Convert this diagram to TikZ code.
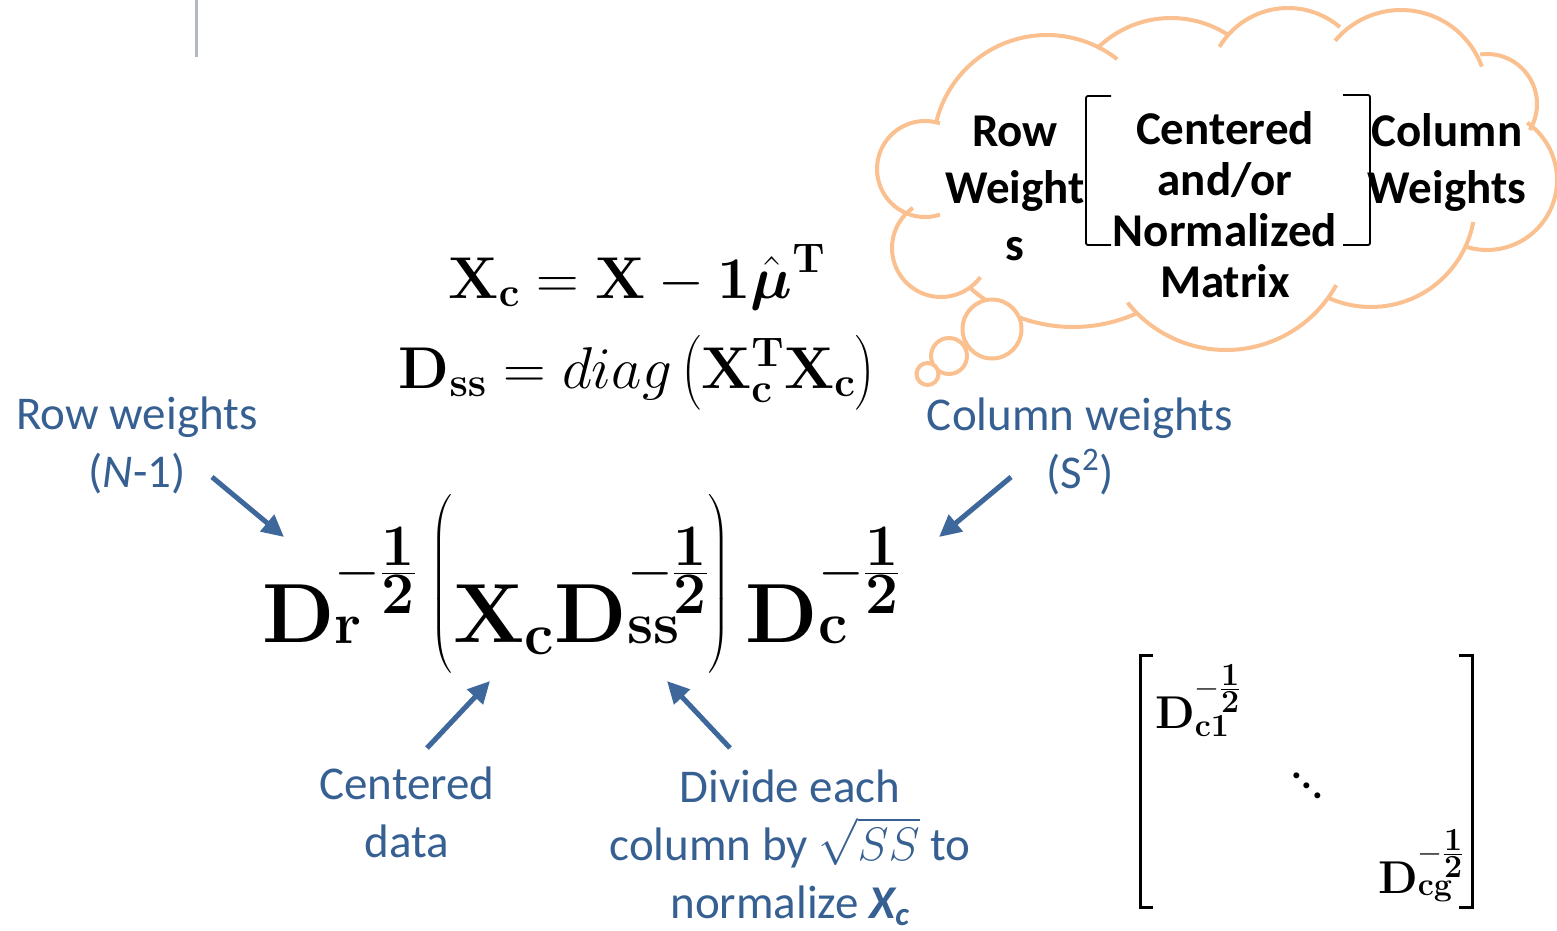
\RequirePackage{fix-cm}
\documentclass[tikz,border=0pt]{standalone}
\usepackage{amsmath}
\usepackage[no-math]{fontspec}
\setmainfont{Carlito}
\usetikzlibrary{arrows.meta}
\definecolor{labelblue}{RGB}{55,96,146}
\definecolor{arrowblue}{RGB}{62,104,156}
\definecolor{cloudpeach}{RGB}{250,192,143}
\definecolor{rulegray}{RGB}{180,185,190}
\newcommand{\mhalf}{-\frac{\scriptstyle\mathbf{1}}{\scriptstyle\mathbf{2}}}
\newcommand{\bigparen}[1]{\raisebox{37pt}{$\left#1\rule{0pt}{110pt}\right.$}}
\begin{document}
\begin{tikzpicture}[x=1pt,y=-1pt,
  bluelabel/.style={text=labelblue, font=\fontsize{47}{58}\selectfont, align=center, anchor=base, inner sep=0pt},
  cloudtext/.style={font=\bfseries\fontsize{47}{57}\selectfont, align=center, anchor=base, inner sep=0pt},
  mathtext/.style={anchor=base, inner sep=0pt},
  puff/.style={draw=cloudpeach, line width=4pt},
  pointer/.style={draw=arrowblue, line width=5pt, -{Triangle[length=22pt,width=21pt]},
    preaction={draw=black!20, transform canvas={shift={(1.5pt,-2pt)}}}}]
\useasboundingbox (0,0) rectangle (1557,930);
\draw[rulegray, line width=3pt] (196,0) -- (196,57);
\draw[puff] (1047,149) ++(193.7:114) arc[start angle=193.7, end angle=308, radius=114];
\draw[puff] (1171,123) ++(225.4:105) arc[start angle=225.4, end angle=302.9, radius=105];
\draw[puff] (1288,88) ++(211:80) arc[start angle=211, end angle=310.4, radius=80];
\draw[puff] (1401,96) ++(220:86) arc[start angle=220, end angle=340, radius=86];
\draw[puff] (1487,104) ++(262.2:50) arc[start angle=262.2, end angle=391.3, radius=50];
\draw[puff] (1487,180) ++(-55:70) arc[start angle=-55, end angle=106.6, radius=70];
\draw[puff] (1371,203) ++(10.5:104) arc[start angle=10.5, end angle=114.4, radius=104];
\draw[puff] (1226,224) ++(29:126) arc[start angle=29, end angle=141.4, radius=126];
\draw[puff] (1073,172) ++(65.6:155) arc[start angle=65.6, end angle=131.9, radius=155];
\draw[puff] (941,248) ++(36.5:49) arc[start angle=36.5, end angle=235, radius=49];
\draw[puff] (925,169) ++(71.9:48) arc[start angle=71.9, end angle=288.1, radius=48];
\draw[puff, fill=white] (992,329) circle[radius=29.5];
\draw[puff, fill=white] (949,356) circle[radius=18];
\draw[puff, fill=white] (927.5,374) circle[radius=11];
\draw[line width=1.8pt, rounded corners=2pt] (1111,96) -- (1086,96) -- (1086,245) -- (1111,245);
\draw[line width=1.8pt, rounded corners=2pt] (1343,95) -- (1370,95) -- (1370,245) -- (1343,245);
\node[cloudtext] (rowwt) at (1015,260) {Row\\Weight\\s};
\node[cloudtext, font=\bfseries\fontsize{47}{51}\selectfont] (matrixtxt) at (1225,297) {Centered\\and/or\\Normalized\\Matrix};
\node[cloudtext] (colwt) at (1447,203) {Column\\Weights};
\node[mathtext, font=\fontsize{59}{70}\selectfont] (xcdef) at (637,298)
  {$\mathbf{X}_{\mathbf{c}} = \mathbf{X} - \mathbf{1}\hat{\boldsymbol{\mu}}^{\mathbf{T}}$};
\node[mathtext, font=\fontsize{59}{70}\selectfont] (dssdef) at (637,388)
  {$\mathbf{D}_{\mathbf{ss}} = diag\left(\mathbf{X}_{\mathbf{c}}^{\mathbf{T}}\mathbf{X}_{\mathbf{c}}\right)$};
\node[mathtext, anchor=base west, font=\fontsize{84}{100}\selectfont] (scaled) at (262,642)
  {$\mathbf{D}_{\mathbf{r}}^{\mhalf}\,\bigparen(\mathbf{X}_{\mathbf{c}}\mathbf{D}_{\mathbf{ss}}^{\mhalf}\bigparen)\,\mathbf{D}_{\mathbf{c}}^{\mhalf}$};
\node[mathtext, anchor=base west, font=\fontsize{46}{55}\selectfont] (dcone) at (1155,728)
  {$\mathbf{D}_{\mathbf{c1}}^{\mhalf}$};
\node[mathtext, anchor=base west, font=\bfseries\fontsize{40}{48}\selectfont] (dots) at (1291,798)
  {\raisebox{20pt}{.}\raisebox{10pt}{.}.};
\node[mathtext, anchor=base west, font=\fontsize{46}{55}\selectfont] (dcg) at (1378,893)
  {$\mathbf{D}_{\mathbf{cg}}^{\mhalf}$};
\draw[line width=3pt] (1153,655) -- (1140,655) -- (1140,907) -- (1153,907);
\draw[line width=3pt] (1459,655) -- (1472,655) -- (1472,907) -- (1459,907);
\node[bluelabel] (rowlbl) at (137,487) {Row weights\\(\textit{N}-1)};
\node[bluelabel] (collbl) at (1080,488) {Column weights\\(S\textsuperscript{2})};
\node[bluelabel] (cenlbl) at (407,857) {Centered\\data};
\node[bluelabel] (divlbl) at (790,918) {Divide each\\column by $\sqrt{SS}$ to\\normalize \textbf{\textit{X\textsubscript{c}}}};
\coordinate (rowtail) at (212,477);
\coordinate (rowtip) at (284,537);
\coordinate (coltail) at (1011,477);
\coordinate (coltip) at (939,537);
\coordinate (centail) at (427,748);
\coordinate (centip) at (490,681);
\coordinate (divtail) at (730,748);
\coordinate (divtip) at (667,681);
\draw[pointer] (rowtail) -- (rowtip);
\draw[pointer] (coltail) -- (coltip);
\draw[pointer] (centail) -- (centip);
\draw[pointer] (divtail) -- (divtip);
\end{tikzpicture}
\end{document}
